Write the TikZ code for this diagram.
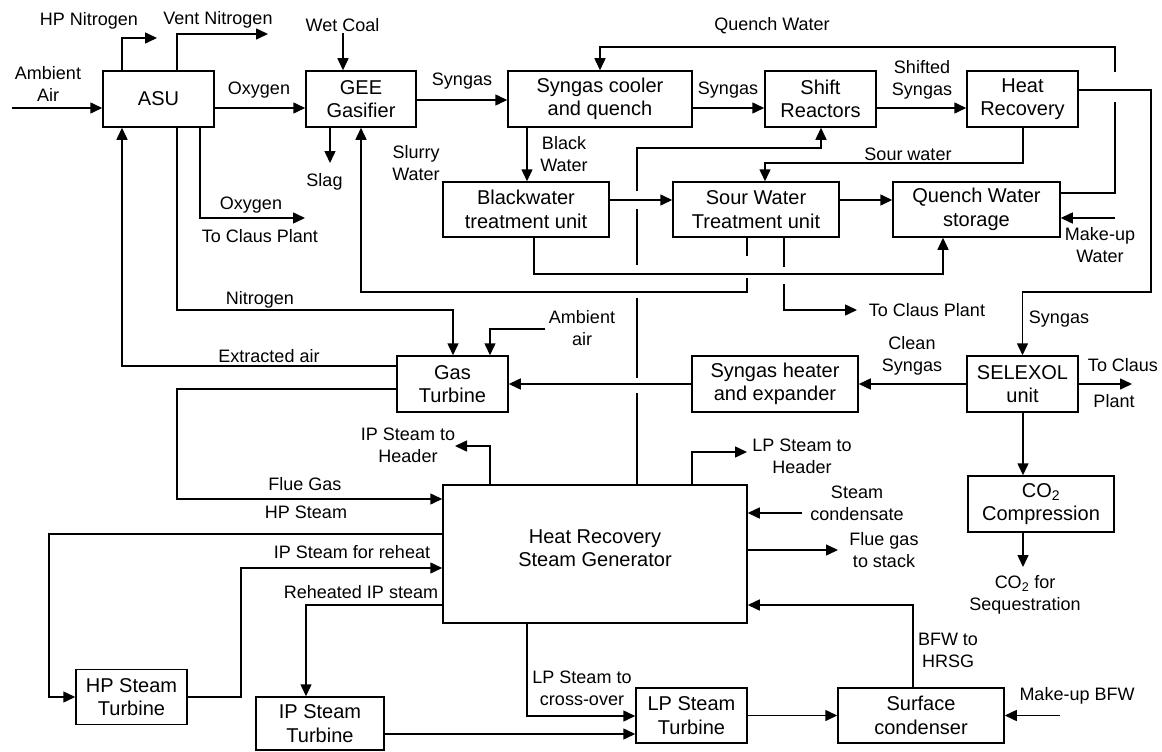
\documentclass[tikz,border=0pt]{standalone}
\usepackage{fontspec}
\setmainfont{Liberation Sans}
\usetikzlibrary{arrows.meta}
\tikzset{
  blk/.style={draw, line width=1.5pt, inner sep=2pt, align=center,
              font=\fontsize{20}{23.5}\selectfont},
  sz/.style 2 args={minimum width=#1pt, minimum height=#2pt},
  lbl/.style={align=center, inner sep=0pt, font=\fontsize{18}{22}\selectfont},
  arr/.style={-{Triangle[length=12pt,width=11pt]}},
}
\begin{document}
\begin{tikzpicture}[x=1pt, y=-1pt, line width=1.5pt]
\useasboundingbox (0,0) rectangle (1162,752);

% ---- process units ----
\node[blk, sz={111}{56}]  (asu)   at (158.5,99)   {ASU};
\node[blk, sz={110}{56}]  (gee)   at (361,99)     {GEE\\Gasifier};
\node[blk, sz={184}{56}]  (cool)  at (600,99)     {Syngas cooler\\and quench};
\node[blk, sz={111}{56}]  (shift) at (820.5,99)   {Shift\\Reactors};
\node[blk, sz={111}{56}]  (hrec)  at (1022.5,99)  {Heat\\Recovery};
\node[blk, sz={166}{55}]  (bw)    at (526,209.5)  {Blackwater\\treatment unit};
\node[blk, sz={166}{55}]  (sw)    at (756,209.5)  {Sour Water\\Treatment unit};
\node[blk, sz={167}{55}]  (qws)   at (976.5,209.5){Quench Water\\storage};
\node[blk, sz={111}{56}]  (gt)    at (452.5,384)  {Gas\\Turbine};
\node[blk, sz={166}{56}]  (she)   at (775,384)    {Syngas heater\\and expander};
\node[blk, sz={111}{56}]  (sel)   at (1022.5,384) {SELEXOL\\unit};
\node[blk, sz={146}{56}]  (co2)   at (1041,504)   {CO\textsubscript{2}\\Compression};
\node[blk, sz={304}{138}, text depth=12pt] (hrsg) at (595,554) {Heat Recovery\\Steam Generator};
\node[blk, sz={111}{55}]  (hpt)   at (131.5,697)  {HP Steam\\Turbine};
\node[blk, sz={128}{53}]  (ipt)   at (320,723.5)  {IP Steam\\Turbine};
\node[blk, sz={111}{55}]  (lpt)   at (691.5,715.5){LP Steam\\Turbine};
\node[blk, sz={166}{55}]  (sc)    at (921,715.5)  {Surface\\condenser};

% ---- air separation ----
\draw[arr] (12,108) -- (asu.west |- 0,108);
\node[lbl] (lamb) at (48,84) {Ambient\\Air};
\draw[arr] (asu.north -| 122,0) |- (157,38);
\node[lbl] (lhpn) at (89,21) {HP Nitrogen};
\draw[arr] (asu.north -| 177,0) |- (268,34);
\node[lbl] (lvent) at (218,20) {Vent Nitrogen};
\draw[arr] (asu.east |- 0,108) -- (gee.west |- 0,108);
\node[lbl] (lox) at (259,90) {Oxygen};
\draw[arr] (asu.south -| 200,0) |- (305,218);
\node[lbl] (lox2) at (251,205) {Oxygen};
\node[lbl] (lclaus1) at (260,236) {To Claus Plant};
\draw[arr] (asu.south -| 177,0) |- (453,310) -- (gt.north -| 453,0);
\node[lbl] (lnit) at (260,300) {Nitrogen};
\draw[arr] (gt.west |- 0,366) -| (asu.south -| 122,0);
\node[lbl] (lext) at (269,356) {Extracted air};

% ---- gasification and syngas line ----
\draw[arr] (343,33) -- (gee.north -| 343,0);
\node[lbl] (lcoal) at (342.5,25) {Wet Coal};
\draw[arr] (gee.south -| 330,0) -- (330,163);
\node[lbl] (lslag) at (324.5,182) {Slag};
\draw[arr] (gee.east |- 0,100) -- (cool.west |- 0,100);
\node[lbl] (lsyn1) at (462,81) {Syngas};
\draw[arr] (cool.east |- 0,108) -- (shift.west |- 0,108);
\node[lbl] (lsyn2) at (728,90) {Syngas};
\draw[arr] (shift.east |- 0,108) -- (hrec.west |- 0,108);
\node[lbl] (lshift) at (922,80) {Shifted\\Syngas};
\draw[arr] (hrec.east |- 0,90) -| (1151,292) -| (sel.north);
\node[lbl] (lsyn3) at (1059,319) {Syngas};

% ---- water circuits ----
\draw (qws.east |- 0,193) -| (1115,102);
\draw[arr] (1115,72) |- (600,47) -- (cool.north -| 600,0);
\node[lbl] (lqw) at (772,26) {Quench Water};
\draw[arr] (hrec.south -| 1023,0) |- (765,163) -- (sw.north -| 765,0);
\node[lbl] (lsour) at (908,154) {Sour water};
\draw[arr] (cool.south -| 527,0) -- (bw.north -| 527,0);
\node[lbl] (lbw) at (564,154) {Black\\Water};
\draw[arr] (bw.east |- 0,200) -- (sw.west |- 0,200);
\draw[arr] (sw.east |- 0,200) -- (qws.west |- 0,200);
\draw[arr] (1115,218) -- (qws.east |- 0,218);
\node[lbl] (lmkw) at (1100,245) {Make-up\\Water};
\draw[arr] (bw.south -| 534,0) |- (943,274) -- (qws.south -| 943,0);
\draw (sw.south -| 747,0) -- (747,256);
\draw[arr] (747,278) |- (361,292) -- (gee.south -| 361,0);
\node[lbl] (lslurry) at (416,163) {Slurry\\Water};
\draw (sw.south -| 784,0) -- (784,267);
\draw[arr] (784,284) |- (857,310);
\node[lbl] (lclaus2) at (927,310) {To Claus Plant};

% ---- steam from HRSG to shift reactors (jumps over crossings) ----
\draw (hrsg.north -| 637,0) -- (637,393);
\draw (637,378) -- (637,298);
\draw (637,265) -- (637,209);
\draw[arr] (637,191) |- (821,148) -- (shift.south -| 821,0);

% ---- gas turbine and acid gas removal ----
\draw[arr] (545,329) -| (gt.north -| 490,0);
\node[lbl] (lamb2) at (582,328) {Ambient\\air};
\draw[arr] (she.west) -- (gt.east);
\draw[arr] (sel.west) -- (she.east);
\node[lbl] (lclean) at (912,356) {Clean\\Syngas};
\draw[arr] (sel.east) -- (1132,384);
\node[lbl] (lclaus3a) at (1123,365) {To Claus};
\node[lbl] (lclaus3b) at (1114,401) {Plant};
\draw[arr] (sel.south -| 1023,0) -- (co2.north -| 1023,0);
\draw[arr] (co2.south -| 1023,0) -- (1023,567);
\node[lbl] (lseq) at (1025,595) {CO\textsubscript{2} for\\Sequestration};

% ---- HRSG connections ----
\draw[arr] (gt.west |- 0,389) -| (177,499) -- (hrsg.west |- 0,499);
\node[lbl] (lflue) at (305,484) {Flue Gas};
\node[lbl] (lhps) at (306,512) {HP Steam};
\draw[arr] (hrsg.north -| 490,0) |- (455,446);
\node[lbl] (liph) at (408,445) {IP Steam to\\Header};
\draw[arr] (hrsg.north -| 692,0) |- (747,452);
\node[lbl] (llph) at (802,456) {LP Steam to\\Header};
\draw[arr] (802,513) -- (hrsg.east |- 0,513);
\node[lbl] (lcond) at (857,503) {Steam\\condensate};
\draw[arr] (hrsg.east |- 0,550) -- (838,550);
\node[lbl] (lstack) at (884,550) {Flue gas\\to stack};
\draw[arr] (sc.north -| 913,0) |- (hrsg.east |- 0,605);
\node[lbl] (lbfw) at (948,650) {BFW to\\HRSG};

% ---- steam turbines ----
\draw[arr] (hrsg.west |- 0,534) -| (49,697) -- (hpt.west);
\draw[arr] (hpt.east) -| (241,568) -- (hrsg.west |- 0,568);
\node[lbl] (lreh) at (352,552) {IP Steam for reheat};
\draw[arr] (hrsg.west |- 0,605) -| (ipt.north -| 306,0);
\node[lbl] (lrip) at (361,592) {Reheated IP steam};
\draw[arr] (ipt.east |- 0,734) -- (lpt.west |- 0,734);
\draw[arr] (hrsg.south -| 527,0) |- (lpt.west |- 0,716);
\node[lbl] (lcross) at (582,688) {LP Steam to\\cross-over};
\draw[arr] (lpt.east) -- (sc.west);
\draw[arr] (1060,715.5) -- (sc.east);
\node[lbl] (lmkb) at (1077,696) {Make-up BFW};
\end{tikzpicture}
\end{document}
